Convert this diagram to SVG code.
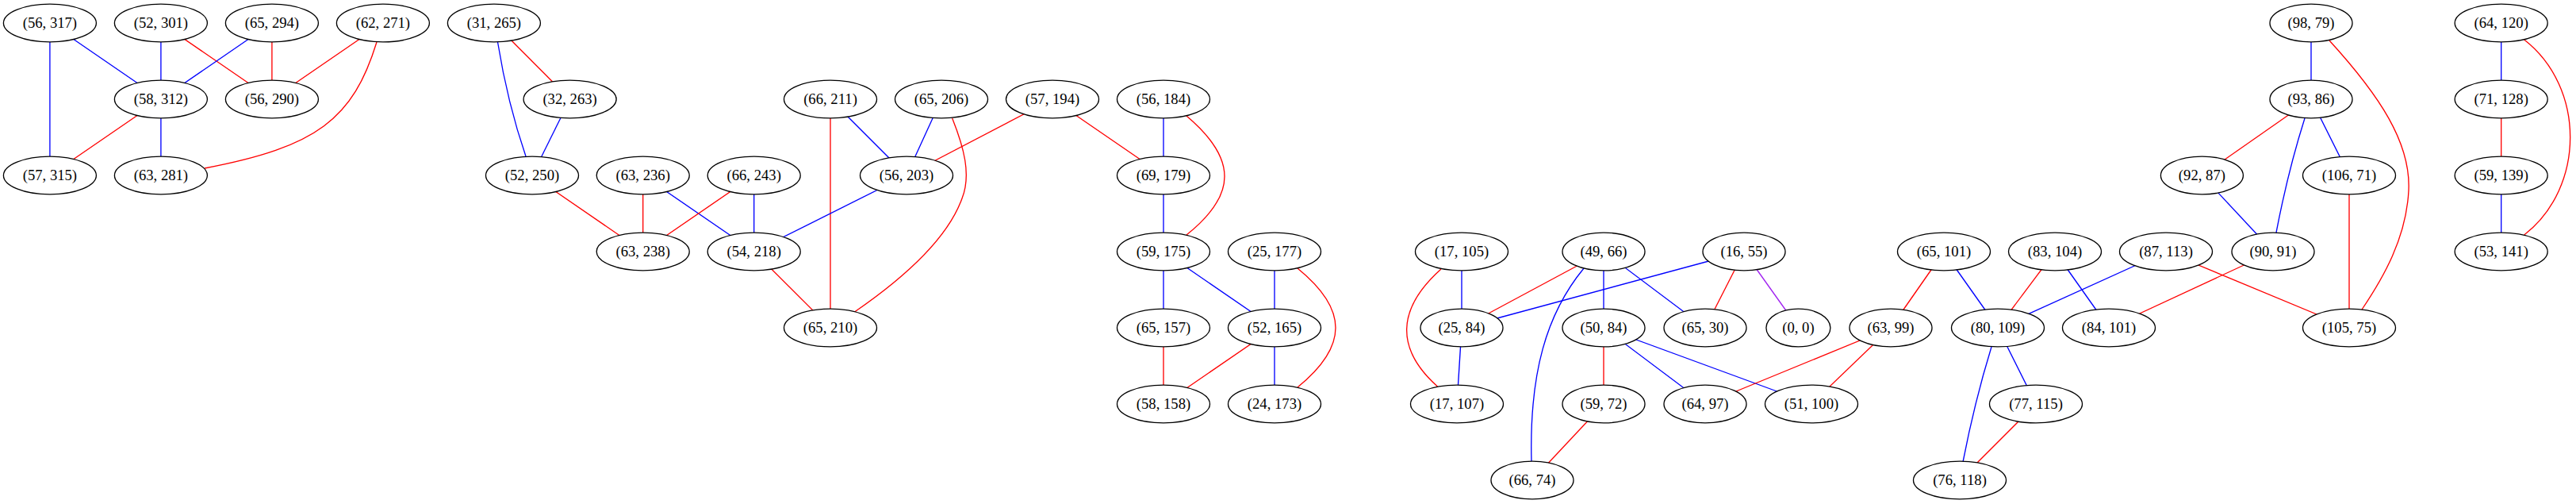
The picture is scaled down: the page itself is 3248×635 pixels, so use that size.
<svg xmlns="http://www.w3.org/2000/svg" width="3248" height="635" viewBox="0 0 3248 635">
<style>
.e line, .e path { fill: none; stroke-width: 1.33; }
.r { stroke: #ff0000; }
.b { stroke: #0000ff; }
.p { stroke: #a020f0; }
.n ellipse { fill: #ffffff; stroke: #000000; stroke-width: 1.33; }
.n text { font-family: "Liberation Serif", "Times New Roman", serif; font-size: 18.67px; text-anchor: middle; fill: #000000; }
</style>
<rect x="0" y="0" width="3248" height="635" fill="#ffffff"/>
<g id="edges" class="e">
<line class="b" x1="62.9" y1="29" x2="202.9" y2="125"/>
<line class="b" x1="62.9" y1="29" x2="62.9" y2="221"/>
<line class="b" x1="202.9" y1="29" x2="202.9" y2="125"/>
<line class="r" x1="202.9" y1="29" x2="342.9" y2="125"/>
<line class="b" x1="342.9" y1="29" x2="202.9" y2="125"/>
<line class="r" x1="342.9" y1="29" x2="342.9" y2="125"/>
<line class="r" x1="482.9" y1="29" x2="342.9" y2="125"/>
<path class="r" d="M475,53 C445,150 400,185 258,212"/>
<line class="r" x1="202.9" y1="125" x2="62.9" y2="221"/>
<line class="b" x1="202.9" y1="125" x2="202.9" y2="221"/>
<path class="b" d="M627.5,53 Q640,130 663,197"/>
<line class="r" x1="622.9" y1="29" x2="718.6" y2="125"/>
<line class="b" x1="718.6" y1="125" x2="671" y2="221"/>
<line class="r" x1="671" y1="221" x2="810.7" y2="317"/>
<line class="r" x1="810.7" y1="221" x2="810.7" y2="317"/>
<line class="b" x1="810.7" y1="221" x2="950.7" y2="317"/>
<line class="r" x1="950.7" y1="221" x2="810.7" y2="317"/>
<line class="b" x1="950.7" y1="221" x2="950.7" y2="317"/>
<line class="r" x1="1047" y1="125" x2="1047" y2="413"/>
<line class="b" x1="1047" y1="125" x2="1143" y2="221"/>
<line class="b" x1="1143" y1="221" x2="950.7" y2="317"/>
<line class="r" x1="950.7" y1="317" x2="1047" y2="413"/>
<line class="b" x1="1187" y1="125" x2="1143" y2="221"/>
<path class="r" d="M1200.7,149 C1215,185 1225,220 1213,250 C1195,300 1140,350 1077.5,393"/>
<line class="r" x1="1327" y1="125" x2="1143" y2="221"/>
<line class="r" x1="1327" y1="125" x2="1467" y2="221"/>
<line class="b" x1="1467" y1="125" x2="1467" y2="221"/>
<path class="r" d="M1496,146 C1560,200 1560,245 1496,296"/>
<line class="b" x1="1467" y1="221" x2="1467" y2="317"/>
<line class="b" x1="1467" y1="317" x2="1467" y2="413"/>
<line class="b" x1="1467" y1="317" x2="1607" y2="413"/>
<line class="b" x1="1607" y1="317" x2="1607" y2="413"/>
<path class="r" d="M1636,338 C1700,390 1700,436 1636,488"/>
<line class="r" x1="1467" y1="413" x2="1467" y2="509"/>
<line class="r" x1="1607" y1="413" x2="1467" y2="509"/>
<line class="b" x1="1607" y1="413" x2="1607" y2="509"/>
<line class="b" x1="1843" y1="317" x2="1843" y2="413"/>
<path class="r" d="M1817,339 C1760,390 1760,440 1812.5,487"/>
<line class="r" x1="2022" y1="317" x2="1843" y2="413"/>
<path class="b" d="M1997,338 C1950,395 1928,470 1931,582"/>
<line class="b" x1="2022" y1="317" x2="2022" y2="413"/>
<line class="b" x1="2022" y1="317" x2="2150" y2="413"/>
<line class="b" x1="2199" y1="317" x2="1843" y2="413"/>
<line class="r" x1="2199" y1="317" x2="2150" y2="413"/>
<line class="p" x1="2199" y1="317" x2="2267.4" y2="413"/>
<line class="b" x1="1843" y1="413" x2="1837" y2="509"/>
<line class="r" x1="2022" y1="413" x2="2022" y2="509"/>
<line class="b" x1="2022" y1="413" x2="2150" y2="509"/>
<line class="b" x1="2022" y1="413" x2="2284" y2="509"/>
<line class="r" x1="2384" y1="413" x2="2150" y2="509"/>
<line class="r" x1="2384" y1="413" x2="2284" y2="509"/>
<line class="r" x1="2022" y1="509" x2="1932" y2="605"/>
<line class="r" x1="2451" y1="317" x2="2384" y2="413"/>
<line class="b" x1="2451" y1="317" x2="2519" y2="413"/>
<line class="r" x1="2591" y1="317" x2="2519" y2="413"/>
<line class="b" x1="2591" y1="317" x2="2659" y2="413"/>
<line class="b" x1="2731" y1="317" x2="2519" y2="413"/>
<line class="r" x1="2731" y1="317" x2="2962" y2="413"/>
<line class="r" x1="2866" y1="317" x2="2659" y2="413"/>
<line class="b" x1="2519" y1="413" x2="2567" y2="509"/>
<path class="b" d="M2511,437 Q2490,505 2475,582"/>
<line class="r" x1="2567" y1="509" x2="2471" y2="605"/>
<line class="b" x1="2776.4" y1="221" x2="2866" y2="317"/>
<line class="r" x1="2914" y1="125" x2="2776.4" y2="221"/>
<line class="b" x1="2914" y1="29" x2="2914" y2="125"/>
<path class="r" d="M2937,51 C3000,120 3040,180 3037,240 C3034,300 3005,350 2978,390"/>
<path class="b" d="M2906,149 Q2885,215 2870,293"/>
<line class="b" x1="2914" y1="125" x2="2962" y2="221"/>
<line class="r" x1="2962" y1="221" x2="2962" y2="413"/>
<line class="b" x1="3153.7" y1="29" x2="3153.7" y2="125"/>
<path class="r" d="M3182.7,50 C3260,110 3260,236 3182.7,296"/>
<line class="r" x1="3153.7" y1="125" x2="3153.7" y2="221"/>
<line class="b" x1="3153.7" y1="221" x2="3153.7" y2="317"/>
</g>
<g id="nodes" class="n">
<g id="n_56_317"><ellipse cx="62.9" cy="29" rx="58.5" ry="23.9"/><text x="62.9" y="35">(56, 317)</text></g>
<g id="n_52_301"><ellipse cx="202.9" cy="29" rx="58.5" ry="23.9"/><text x="202.9" y="35">(52, 301)</text></g>
<g id="n_65_294"><ellipse cx="342.9" cy="29" rx="58.5" ry="23.9"/><text x="342.9" y="35">(65, 294)</text></g>
<g id="n_62_271"><ellipse cx="482.9" cy="29" rx="58.5" ry="23.9"/><text x="482.9" y="35">(62, 271)</text></g>
<g id="n_31_265"><ellipse cx="622.9" cy="29" rx="58.5" ry="23.9"/><text x="622.9" y="35">(31, 265)</text></g>
<g id="n_98_79"><ellipse cx="2914" cy="29" rx="52" ry="23.9"/><text x="2914" y="35">(98, 79)</text></g>
<g id="n_64_120"><ellipse cx="3153.7" cy="29" rx="58.5" ry="23.9"/><text x="3153.7" y="35">(64, 120)</text></g>
<g id="n_58_312"><ellipse cx="202.9" cy="125" rx="58.5" ry="23.9"/><text x="202.9" y="131">(58, 312)</text></g>
<g id="n_56_290"><ellipse cx="342.9" cy="125" rx="58.5" ry="23.9"/><text x="342.9" y="131">(56, 290)</text></g>
<g id="n_32_263"><ellipse cx="718.6" cy="125" rx="58.5" ry="23.9"/><text x="718.6" y="131">(32, 263)</text></g>
<g id="n_66_211"><ellipse cx="1047" cy="125" rx="58.5" ry="23.9"/><text x="1047" y="131">(66, 211)</text></g>
<g id="n_65_206"><ellipse cx="1187" cy="125" rx="58.5" ry="23.9"/><text x="1187" y="131">(65, 206)</text></g>
<g id="n_57_194"><ellipse cx="1327" cy="125" rx="58.5" ry="23.9"/><text x="1327" y="131">(57, 194)</text></g>
<g id="n_56_184"><ellipse cx="1467" cy="125" rx="58.5" ry="23.9"/><text x="1467" y="131">(56, 184)</text></g>
<g id="n_93_86"><ellipse cx="2914" cy="125" rx="52" ry="23.9"/><text x="2914" y="131">(93, 86)</text></g>
<g id="n_71_128"><ellipse cx="3153.7" cy="125" rx="58.5" ry="23.9"/><text x="3153.7" y="131">(71, 128)</text></g>
<g id="n_57_315"><ellipse cx="62.9" cy="221" rx="58.5" ry="23.9"/><text x="62.9" y="227">(57, 315)</text></g>
<g id="n_63_281"><ellipse cx="202.9" cy="221" rx="58.5" ry="23.9"/><text x="202.9" y="227">(63, 281)</text></g>
<g id="n_52_250"><ellipse cx="671" cy="221" rx="58.5" ry="23.9"/><text x="671" y="227">(52, 250)</text></g>
<g id="n_63_236"><ellipse cx="810.7" cy="221" rx="58.5" ry="23.9"/><text x="810.7" y="227">(63, 236)</text></g>
<g id="n_66_243"><ellipse cx="950.7" cy="221" rx="58.5" ry="23.9"/><text x="950.7" y="227">(66, 243)</text></g>
<g id="n_56_203"><ellipse cx="1143" cy="221" rx="58.5" ry="23.9"/><text x="1143" y="227">(56, 203)</text></g>
<g id="n_69_179"><ellipse cx="1467" cy="221" rx="58.5" ry="23.9"/><text x="1467" y="227">(69, 179)</text></g>
<g id="n_92_87"><ellipse cx="2776.4" cy="221" rx="52" ry="23.9"/><text x="2776.4" y="227">(92, 87)</text></g>
<g id="n_106_71"><ellipse cx="2962" cy="221" rx="58.5" ry="23.9"/><text x="2962" y="227">(106, 71)</text></g>
<g id="n_59_139"><ellipse cx="3153.7" cy="221" rx="58.5" ry="23.9"/><text x="3153.7" y="227">(59, 139)</text></g>
<g id="n_63_238"><ellipse cx="810.7" cy="317" rx="58.5" ry="23.9"/><text x="810.7" y="323">(63, 238)</text></g>
<g id="n_54_218"><ellipse cx="950.7" cy="317" rx="58.5" ry="23.9"/><text x="950.7" y="323">(54, 218)</text></g>
<g id="n_59_175"><ellipse cx="1467" cy="317" rx="58.5" ry="23.9"/><text x="1467" y="323">(59, 175)</text></g>
<g id="n_25_177"><ellipse cx="1607" cy="317" rx="58.5" ry="23.9"/><text x="1607" y="323">(25, 177)</text></g>
<g id="n_17_105"><ellipse cx="1843" cy="317" rx="58.5" ry="23.9"/><text x="1843" y="323">(17, 105)</text></g>
<g id="n_49_66"><ellipse cx="2022" cy="317" rx="52" ry="23.9"/><text x="2022" y="323">(49, 66)</text></g>
<g id="n_16_55"><ellipse cx="2199" cy="317" rx="52" ry="23.9"/><text x="2199" y="323">(16, 55)</text></g>
<g id="n_65_101"><ellipse cx="2451" cy="317" rx="58.5" ry="23.9"/><text x="2451" y="323">(65, 101)</text></g>
<g id="n_83_104"><ellipse cx="2591" cy="317" rx="58.5" ry="23.9"/><text x="2591" y="323">(83, 104)</text></g>
<g id="n_87_113"><ellipse cx="2731" cy="317" rx="58.5" ry="23.9"/><text x="2731" y="323">(87, 113)</text></g>
<g id="n_90_91"><ellipse cx="2866" cy="317" rx="52" ry="23.9"/><text x="2866" y="323">(90, 91)</text></g>
<g id="n_53_141"><ellipse cx="3153.7" cy="317" rx="58.5" ry="23.9"/><text x="3153.7" y="323">(53, 141)</text></g>
<g id="n_65_210"><ellipse cx="1047" cy="413" rx="58.5" ry="23.9"/><text x="1047" y="419">(65, 210)</text></g>
<g id="n_65_157"><ellipse cx="1467" cy="413" rx="58.5" ry="23.9"/><text x="1467" y="419">(65, 157)</text></g>
<g id="n_52_165"><ellipse cx="1607" cy="413" rx="58.5" ry="23.9"/><text x="1607" y="419">(52, 165)</text></g>
<g id="n_25_84"><ellipse cx="1843" cy="413" rx="52" ry="23.9"/><text x="1843" y="419">(25, 84)</text></g>
<g id="n_50_84"><ellipse cx="2022" cy="413" rx="52" ry="23.9"/><text x="2022" y="419">(50, 84)</text></g>
<g id="n_65_30"><ellipse cx="2150" cy="413" rx="52" ry="23.9"/><text x="2150" y="419">(65, 30)</text></g>
<g id="n_0_0"><ellipse cx="2267.4" cy="413" rx="40.5" ry="23.9"/><text x="2267.4" y="419">(0, 0)</text></g>
<g id="n_63_99"><ellipse cx="2384" cy="413" rx="52" ry="23.9"/><text x="2384" y="419">(63, 99)</text></g>
<g id="n_80_109"><ellipse cx="2519" cy="413" rx="58.5" ry="23.9"/><text x="2519" y="419">(80, 109)</text></g>
<g id="n_84_101"><ellipse cx="2659" cy="413" rx="58.5" ry="23.9"/><text x="2659" y="419">(84, 101)</text></g>
<g id="n_105_75"><ellipse cx="2962" cy="413" rx="58.5" ry="23.9"/><text x="2962" y="419">(105, 75)</text></g>
<g id="n_58_158"><ellipse cx="1467" cy="509" rx="58.5" ry="23.9"/><text x="1467" y="515">(58, 158)</text></g>
<g id="n_24_173"><ellipse cx="1607" cy="509" rx="58.5" ry="23.9"/><text x="1607" y="515">(24, 173)</text></g>
<g id="n_17_107"><ellipse cx="1837" cy="509" rx="58.5" ry="23.9"/><text x="1837" y="515">(17, 107)</text></g>
<g id="n_59_72"><ellipse cx="2022" cy="509" rx="52" ry="23.9"/><text x="2022" y="515">(59, 72)</text></g>
<g id="n_64_97"><ellipse cx="2150" cy="509" rx="52" ry="23.9"/><text x="2150" y="515">(64, 97)</text></g>
<g id="n_51_100"><ellipse cx="2284" cy="509" rx="58.5" ry="23.9"/><text x="2284" y="515">(51, 100)</text></g>
<g id="n_77_115"><ellipse cx="2567" cy="509" rx="58.5" ry="23.9"/><text x="2567" y="515">(77, 115)</text></g>
<g id="n_66_74"><ellipse cx="1932" cy="605" rx="52" ry="23.9"/><text x="1932" y="611">(66, 74)</text></g>
<g id="n_76_118"><ellipse cx="2471" cy="605" rx="58.5" ry="23.9"/><text x="2471" y="611">(76, 118)</text></g>
</g>
</svg>
